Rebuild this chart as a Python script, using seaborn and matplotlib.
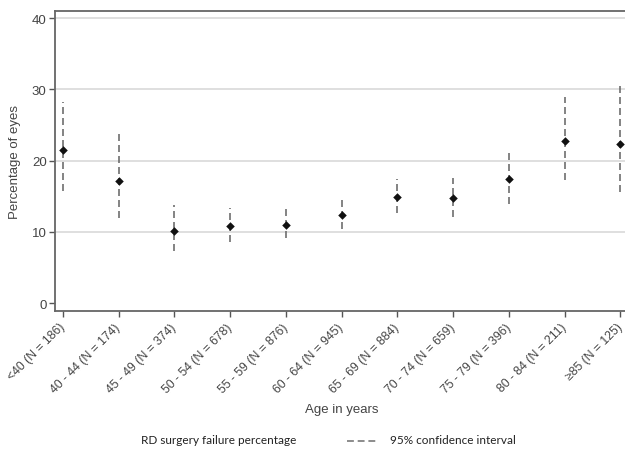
import matplotlib
matplotlib.use("Agg")
import matplotlib.pyplot as plt
import seaborn as sns
import pandas as pd
from matplotlib.lines import Line2D

categories = ["<40 (N = 186)", "40 - 44 (N = 174)", "45 - 49 (N = 374)", "50 - 54 (N = 678)",
              "55 - 59 (N = 876)", "60 - 64 (N = 945)", "65 - 69 (N = 884)", "70 - 74 (N = 659)",
              "75 - 79 (N = 396)", "80 - 84 (N = 211)", "\u226585 (N = 125)"]
failure_pct = [21.5, 17.2, 10.15, 10.8, 10.95, 12.4, 14.85, 14.7, 17.4, 22.75, 22.4]
ci_low = [15.8, 12.0, 7.35, 8.6, 9.1, 10.4, 12.6, 12.1, 13.9, 17.3, 15.6]
ci_high = [28.2, 23.7, 13.8, 13.4, 13.3, 14.7, 17.4, 17.6, 21.4, 29.0, 31.0]
y_ticks = [0, 10, 20, 30, 40]

df = pd.DataFrame({"pos": range(len(categories)), "age": categories,
                   "pct": failure_pct, "lo": ci_low, "hi": ci_high})

sns.set_theme(style="white")
plt.rcParams["font.family"] = ["Liberation Sans", "DejaVu Sans"]

fig = plt.figure(figsize=(6.25, 4.52), dpi=100)
ax = fig.add_axes([55 / 625, 1 - 312 / 452, 571 / 625, 300 / 452])

ax.vlines(df["pos"], df["lo"], df["hi"], colors="#6e6e6e", linewidth=1.2,
          linestyles=(0, (4.2, 2.4)), zorder=2)
sns.scatterplot(data=df, x="pos", y="pct", marker="D", s=19, color="#111111",
                edgecolor="#111111", linewidth=0, ax=ax, zorder=3, legend=False)

ax.set_xlim(-0.14, 10.1)
ax.set_ylim(-1.1, 41)
ax.set_yticks(y_ticks)
ax.set_xticks(df["pos"])
ax.set_xticklabels(categories, rotation=45, ha="right", va="center",
                   rotation_mode="anchor", fontsize=8.8, color="#444444")
ax.tick_params(axis="y", labelsize=9.5, labelcolor="#444444", length=4, width=1,
               color="#555555", pad=2, left=True)
ax.tick_params(axis="x", length=4, width=1, color="#555555", pad=6, bottom=True)
for y in y_ticks[1:]:
    ax.axhline(y, color="#d9d9d9", linewidth=1.2, zorder=1)

for s in ["left", "bottom", "top"]:
    ax.spines[s].set_color("#666666")
    ax.spines[s].set_linewidth(1.3)
ax.spines["right"].set_visible(False)

ax.set_xlabel("Age in years", fontsize=9.5, color="#444444")
ax.set_ylabel("Percentage of eyes", fontsize=9.5, color="#444444", labelpad=8)
ax.xaxis.set_label_coords((342 - 55) / 571, -(404 - 312) / 300)

lf = ["Lato", "DejaVu Sans"]
fig.text(141 / 625, 1 - 441 / 452, "RD surgery failure percentage", fontsize=8.5,
         family=lf, color="#222222", va="center", ha="left")
fig.add_artist(Line2D([347 / 625, 378 / 625], [1 - 442 / 452, 1 - 442 / 452],
                      transform=fig.transFigure, color="#6e6e6e", linewidth=1.1,
                      linestyle=(0, (4.5, 2.5))))
fig.text(390 / 625, 1 - 441 / 452, "95% confidence interval", fontsize=8.5,
         family=lf, color="#222222", va="center", ha="left")

fig.savefig("out.png", dpi=100)
